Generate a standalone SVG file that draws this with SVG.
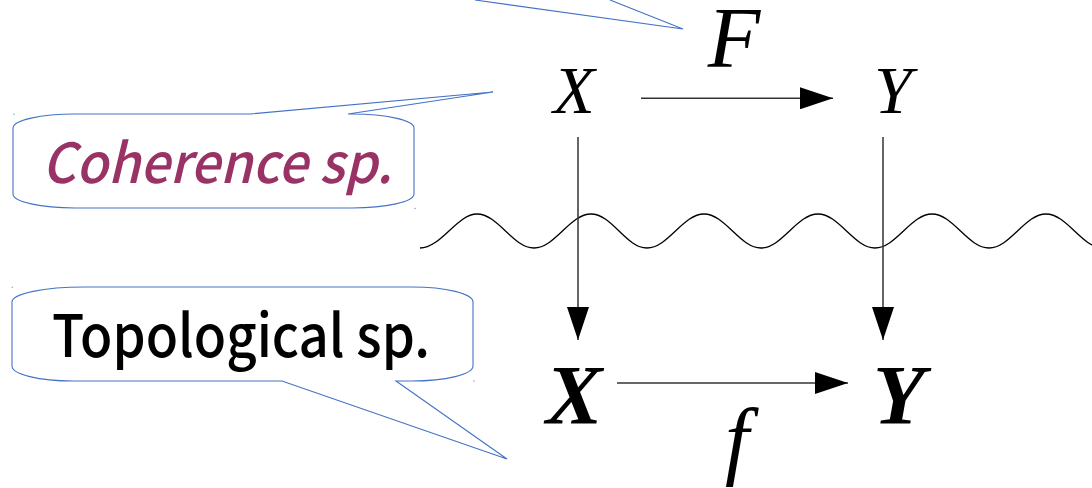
<svg xmlns="http://www.w3.org/2000/svg" width="1092" height="488" viewBox="0 0 1092 488">
<style>
.callout{fill:#fff;stroke:#4472c4;stroke-width:1.1;stroke-linejoin:miter}
.tail{fill:none;stroke:#4472c4;stroke-width:1.1}
.label{font-family:"Noto Sans CJK JP","Noto Sans",sans-serif;font-weight:500}
.math{font-family:"Liberation Serif","Times New Roman",serif;font-style:italic;fill:#000;text-anchor:middle}
.bold{font-weight:bold}
.conn{stroke:#333;stroke-width:1.5;fill:none}
.wave{stroke:#000;stroke-width:1.3;fill:none}
.dot{fill:#8fa8d8}
</style>
<defs>
<marker id="ah" markerUnits="userSpaceOnUse" markerWidth="33" markerHeight="22" refX="33" refY="11" orient="auto">
<path d="M0,0 L33,11 L0,22 Z" fill="#000"/>
</marker>
</defs>
<rect width="1092" height="488" fill="#fff"/>

<g id="callout-top">
<path class="tail" d="M475,0 L683,29 L610,0"/>
</g>

<g id="callout-coherence">
<path class="callout" d="M75,114 L250,114 L493,92 L348,114 L352,114 A62 14 0 0 1 414,128 L414,194 A62 14 0 0 1 352,208 L75,208 A62 14 0 0 1 13,194 L13,128 A62 14 0 0 1 75,114 Z"/>
<text class="label" x="42" y="183" font-style="italic" font-size="55" fill="#993366" textLength="350" lengthAdjust="spacingAndGlyphs">Coherence sp.</text>
<circle class="dot" cx="14" cy="114.3" r="0.8"/>
<circle class="dot" cx="415" cy="208.5" r="0.8"/>
</g>

<g id="callout-topological">
<path class="callout" d="M84,287 L412,287 A61 15 0 0 1 473,302 L473,366 A61 15 0 0 1 412,381 L396,381 L507,459 L282,381 L73,381 A61 15 0 0 1 12,366 L12,302 A72 15 0 0 1 84,287 Z"/>
<text class="label" x="52" y="357" font-size="59" fill="#000" textLength="378" lengthAdjust="spacingAndGlyphs">Topological sp.</text>
<circle class="dot" cx="12.3" cy="287.3" r="0.8"/>
<circle class="dot" cx="474" cy="381" r="0.8"/>
</g>

<g id="node-X-top"><text class="math" x="574" y="113" font-size="68">X</text></g>
<g id="node-Y-top"><text class="math" x="893" y="113" font-size="68">Y</text></g>
<g id="label-F"><text class="math" x="734" y="67" font-size="86">F</text></g>
<g id="node-X-bottom"><text class="math bold" x="574" y="424" font-size="85">X</text></g>
<g id="node-Y-bottom"><text class="math bold" x="899" y="424" font-size="85">Y</text></g>
<g id="label-f"><text class="math" x="737" y="468" font-size="86">f</text></g>

<g id="wave">
<path class="wave" d="M420,248 C441,248 457,214 477,214 C498,214 513,248 534,248 C555,248 570,214 591,214 C612,214 626,248 647,248 C668,248 683,214 704,214 C725,214 740,248 761,248 C782,248 797,214 818,214 C839,214 854,248 875,248 C896,248 911,214 932,214 C953,214 968,248 989,248 C1010,248 1025,214 1046,214 C1067,214 1082,248 1103,248"/>
</g>

<g id="connectors">
<line class="conn" x1="641" y1="98.3" x2="833" y2="98.3" marker-end="url(#ah)"/>
<line class="conn" x1="617" y1="383" x2="848" y2="383" marker-end="url(#ah)"/>
<line class="conn" x1="578" y1="137" x2="578" y2="340" marker-end="url(#ah)"/>
<line class="conn" x1="883" y1="137" x2="883" y2="340" marker-end="url(#ah)"/>
</g>
</svg>
